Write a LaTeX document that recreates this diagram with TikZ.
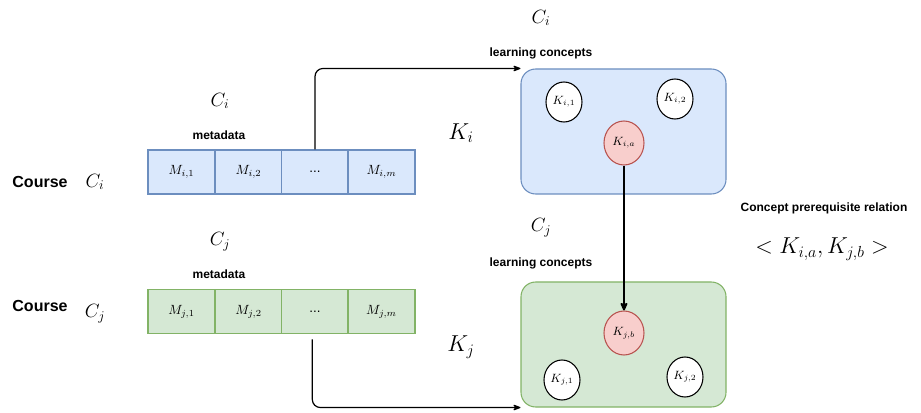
\documentclass[tikz,border=0pt]{standalone}
\usepackage{fontspec}
\setsansfont{Liberation Sans}
\usepackage{tikz}
\usetikzlibrary{arrows.meta,positioning,shapes.geometric}
\definecolor{ink}{HTML}{000000}
\definecolor{bluefill}{HTML}{DAE8FC}
\definecolor{blueline}{HTML}{6C8EBF}
\definecolor{greenfill}{HTML}{D5E8D4}
\definecolor{greenline}{HTML}{82B366}
\definecolor{redfill}{HTML}{F8CECC}
\definecolor{redline}{HTML}{B85450}
\tikzset{
  >={Stealth[round]},
  cell/.style={draw, line width=0.8pt, minimum width=50.25pt, minimum height=33pt,
    inner sep=0pt, font=\normalsize},
  bluecell/.style={cell, draw=blueline, fill=bluefill},
  greencell/.style={cell, draw=greenline, fill=greenfill},
  group/.style={rounded corners=11pt, line width=0.8pt, minimum width=153.75pt,
    minimum height=93.75pt, inner sep=0pt},
  bluegroup/.style={group, draw=blueline, fill=bluefill},
  greengroup/.style={group, draw=greenline, fill=greenfill},
  concept/.style={ellipse, draw=ink, line width=0.8pt, fill=white, inner sep=0pt,
    minimum width=27pt, minimum height=30pt, font=\small},
  keyconcept/.style={concept, draw=redline, fill=redfill, minimum width=30pt, minimum height=33pt},
  label/.style={font=\sffamily\bfseries\small, text=ink},
  coursetag/.style={font=\sffamily\bfseries\large, text=ink},
  mathtag/.style={font=\Large},
  bigtag/.style={font=\LARGE},
  flow/.style={->, line width=0.9pt, draw=ink, rounded corners=6pt},
  relation/.style={-{Stealth[round,length=8pt,width=7pt]}, line width=1.5pt, draw=ink}
}

\begin{document}
\begin{tikzpicture}[x=0.75pt,y=-0.75pt]
  \useasboundingbox (0,0) rectangle (921,413);

  % course C_i
  \node[coursetag] (coursei) at (40,182) {Course};
  \node[mathtag] (ci) at (95,182) {$C_i$};
  \node[mathtag] (cihead) at (220,101) {$C_i$};
  \node[label] (metai) at (219,135) {metadata};
  \node[bluecell] (mi1)   at (181.5,172) {$M_{i,1}$};
  \node[bluecell] (mi2)   at (248.5,172) {$M_{i,2}$};
  \node[bluecell] (dotsi) at (315,172) {\sffamily ...};
  \node[bluecell] (mim)   at (381.5,172) {$M_{i,m}$};

  % course C_j
  \node[coursetag] (coursej) at (40,306) {Course};
  \node[mathtag] (cj) at (95,314) {$C_j$};
  \node[mathtag] (cjhead) at (220,242) {$C_j$};
  \node[label] (metaj) at (219,274) {metadata};
  \node[greencell] (mj1)   at (181.5,311.5) {$M_{j,1}$};
  \node[greencell] (mj2)   at (248.5,311.5) {$M_{j,2}$};
  \node[greencell] (dotsj) at (315,311.5) {\sffamily ...};
  \node[greencell] (mjm)   at (381.5,311.5) {$M_{j,m}$};

  % learning concepts
  \node[mathtag] (kihead) at (541,18) {$C_i$};
  \node[label] (learni) at (541,53) {learning concepts};
  \node[bluegroup] (boxi) at (623.5,131.5) {};
  \node[bigtag] (ki) at (461,133) {$K_i$};
  \node[concept] (ki1) at (564,102) {$K_{i,1}$};
  \node[concept] (ki2) at (675,99) {$K_{i,2}$};
  \node[keyconcept] (kia) at (624,143) {$K_{i,a}$};

  \node[mathtag] (kjhead) at (541,228) {$C_j$};
  \node[label] (learnj) at (541,263) {learning concepts};
  \node[greengroup] (boxj) at (623.5,344.5) {};
  \node[bigtag] (kj) at (461,347) {$K_j$};
  \node[keyconcept] (kjb) at (624,333) {$K_{j,b}$};
  \node[concept] (kj1) at (562,380) {$K_{j,1}$};
  \node[concept] (kj2) at (685,377) {$K_{j,2}$};

  % relation
  \node[label] (reltitle) at (824,208) {Concept prerequisite relation};
  \node[bigtag] (relpair) at (822,249) {$<K_{i,a},K_{j,b}>$};

  \draw[flow] (dotsi.north) |- (boxi.north west);
  \draw[flow] ([xshift=-2pt,yshift=-4pt]dotsj.south) |- (boxj.south west);
  \draw[relation] (kia) -- (kjb);
\end{tikzpicture}
\end{document}
